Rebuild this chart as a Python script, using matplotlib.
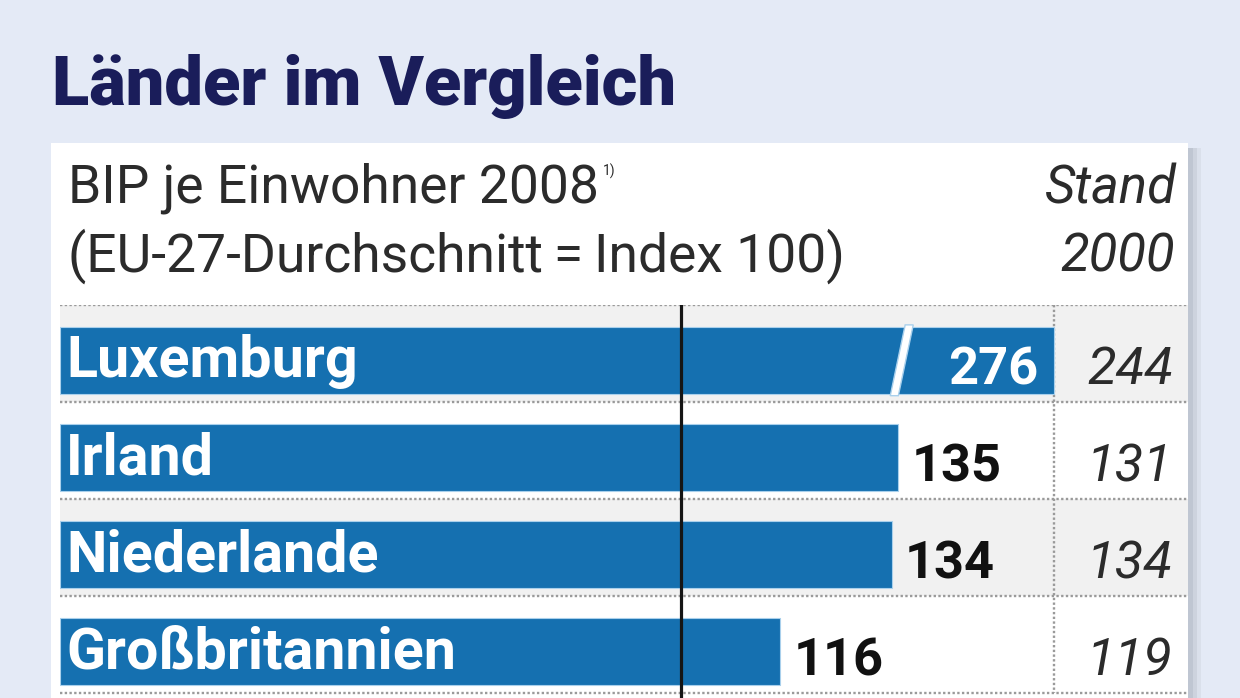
import matplotlib
matplotlib.use("Agg")
import matplotlib.pyplot as plt
from matplotlib import font_manager
from matplotlib.patches import Rectangle, Polygon

# ---------------- data ----------------
countries = ["Luxemburg", "Irland", "Niederlande", "Großbritannien"]
values_2008 = [276, 135, 134, 116]
values_2000 = [244, 131, 134, 119]
reference_index = 100
title = "Länder im Vergleich"
header_line1 = "BIP je Einwohner 2008"
header_note = "1)"
header_line2 = "(EU-27-Durchschnitt\u2009=\u2009Index 100)"
stand_line1 = "Stand"
stand_line2 = "2000"

# ---------------- style ----------------
names = {f.name for f in font_manager.fontManager.ttflist}
NARROW = "Liberation Sans Narrow" if "Liberation Sans Narrow" in names else "Roboto"
FAM = [NARROW, "DejaVu Sans"]
BG = "#e4eaf6"
NAVY = "#1a1d5a"
BAR = "#1570b0"
BAR_EDGE = "#a9d0ec"
ROW_GRAY = "#f1f1f1"
DOT = "#9a9a9a"

W, H = 1240, 698
fig = plt.figure(figsize=(W / 100, H / 100), dpi=100)
fig.patch.set_facecolor(BG)

# overlay axes in pixel coordinates for panel and header
deco = fig.add_axes([0, 0, 1, 1], zorder=0)
deco.set_xlim(0, W)
deco.set_ylim(H, 0)
deco.axis("off")
deco.patch.set_alpha(0)

# panel with soft right shadow
for x0, w, c in [(1188, 5, "#bfc6d2"), (1193, 4, "#cdd3de"), (1197, 4, "#dae0eb")]:
    deco.add_patch(Rectangle((x0, 148), w, H - 148, color=c, lw=0))
deco.add_patch(Rectangle((51, 143), 1188 - 51, H - 143, color="white", lw=0))

renderer = fig.canvas.get_renderer()


def fit(texts, targets):
    meas = sum(t.get_window_extent(renderer).width for t in texts)
    k = sum(targets) / meas
    for t in texts:
        t.set_fontsize(t.get_fontsize() * k)


t_title = deco.text(52, 105, title, color=NAVY, fontsize=50, fontweight="black",
                    family=FAM, va="baseline", ha="left")
fit([t_title], [625])

t_h1 = deco.text(68, 203, header_line1, color="#2b2b2b", fontsize=30, family=FAM,
                 va="baseline", ha="left")
t_h2 = deco.text(68, 272, header_line2, color="#2b2b2b", fontsize=30, family=FAM,
                 va="baseline", ha="left")
fit([t_h1, t_h2], [517, 787])
note_x = t_h1.get_window_extent(renderer).x1 + 4
deco.text(note_x, 176, header_note, color="#2b2b2b", fontsize=10, family=FAM,
          va="baseline", ha="left")
t_s1 = deco.text(1177, 203, stand_line1, color="#2b2b2b", fontsize=30, family=FAM,
                 style="italic", va="baseline", ha="right")
t_s2 = deco.text(1175, 272, stand_line2, color="#2b2b2b", fontsize=30, family=FAM,
                 style="italic", va="baseline", ha="right")
fit([t_s1, t_s2], [129, 117])

# ---------------- bar axes ----------------
px_per_unit = 6.21
ax_left, ax_right, ax_top = 60, 1188, 305
row_px = 97
ax = fig.add_axes([ax_left / W, 0, (ax_right - ax_left) / W, (H - ax_top) / H], zorder=1)
ax.patch.set_alpha(0)
ax.set_xlim(0, (ax_right - ax_left) / px_per_unit)
ax.set_ylim(-0.5 + (H - ax_top) / row_px, -0.5)
ax.axis("off")

n = len(countries)
stand_col_x = 160
bar_shift = 0.07
bar_h = 0.69

for i in range(n):
    if i % 2 == 0:
        ax.axhspan(i - 0.5, i + 0.5, color=ROW_GRAY, lw=0, zorder=0)
for yb in [i - 0.5 for i in range(n + 1)]:
    ax.axhline(yb, color=DOT, lw=1.7, ls=(0, (1.0, 1.0)), zorder=1)
ax.vlines(stand_col_x, -0.5, n - 0.5, color=DOT, lw=1.7, ls=(0, (1.0, 1.0)), zorder=1)

ypos = [i + bar_shift for i in range(n)]
shown = [min(v, stand_col_x) for v in values_2008]
ax.barh(ypos, shown, height=bar_h, color=BAR, edgecolor=BAR_EDGE, lw=0.8, zorder=2)

# break mark on truncated bar(s)
for i, v in enumerate(values_2008):
    if v > stand_col_x:
        yt, yb = ypos[i] - bar_h / 2 - 0.02, ypos[i] + bar_h / 2 + 0.02
        ax.add_patch(Polygon([(133.7, yb), (135.0, yb), (137.4, yt), (136.1, yt)],
                             closed=True, facecolor="white", edgecolor=BAR_EDGE,
                             lw=1.0, zorder=3))

ax.axvline(reference_index, color="#151515", lw=2.3, zorder=4)

# labels
cap_off = 0.175
val_off = 0.245
t_countries = [ax.text(1.0, ypos[i] + cap_off, countries[i], color="white",
                       fontsize=30, fontweight="bold", family=FAM,
                       va="baseline", ha="left", zorder=5) for i in range(n)]
fit(t_countries, [290, 147, 312, 390])

t_vals = []
for i, v in enumerate(values_2008):
    if v > stand_col_x:
        t = ax.text(stand_col_x - 2.4, ypos[i] + val_off, f"{v}", color="white",
                    fontsize=30, fontweight="bold", family=FAM, va="baseline",
                    ha="right", zorder=5)
    else:
        t = ax.text(v + 2.1, ypos[i] + val_off, f"{v}", color="#111111",
                    fontsize=30, fontweight="bold", family=FAM, va="baseline",
                    ha="left", zorder=5)
    t_vals.append(t)
fit(t_vals, [92, 90, 90, 88])

t_old = [ax.text(179.2, ypos[i] + val_off, f"{v}", color="#2b2b2b", fontsize=30,
                 style="italic", family=FAM, va="baseline", ha="right", zorder=5)
         for i, v in enumerate(values_2000)]
fit(t_old, [87, 84, 87, 84])

fig.savefig("out.png", dpi=100, facecolor=BG)
